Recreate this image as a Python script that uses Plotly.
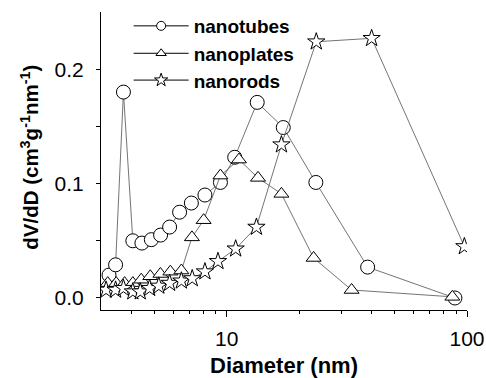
import numpy as np
import plotly.graph_objects as go

# Diameter (nm) and dV/dD values
tubes_d = [3.24, 3.45, 3.72, 4.07, 4.44, 4.86, 5.31, 5.79, 6.37, 7.13, 8.12, 9.42, 10.8, 13.4, 17.2, 23.5, 38.6, 89.1]
tubes_v = [0.020, 0.029, 0.180, 0.050, 0.048, 0.051, 0.055, 0.062, 0.075, 0.083, 0.090, 0.101, 0.123, 0.171, 0.149, 0.101, 0.027, 0.000]

plates_d = [3.20, 3.47, 3.76, 4.07, 4.41, 4.81, 5.30, 5.83, 6.48, 7.17, 8.02, 9.42, 11.25, 13.5, 16.9, 23.0, 33.1, 86.9]
plates_v = [0.013, 0.013, 0.013, 0.013, 0.016, 0.019, 0.021, 0.023, 0.024, 0.053, 0.068, 0.107, 0.121, 0.105, 0.091, 0.035, 0.007, 0.001]

rods_d = [3.15, 3.45, 3.72, 4.07, 4.37, 4.78, 5.22, 5.79, 6.48, 7.19, 8.12, 9.2, 10.9, 13.3, 16.9, 23.6, 40.1, 97.5]
rods_v = [0.007, 0.007, 0.0085, 0.0055, 0.0055, 0.0085, 0.0105, 0.013, 0.015, 0.017, 0.023, 0.032, 0.043, 0.062, 0.134, 0.224, 0.227, 0.045]

names = ["nanotubes", "nanoplates", "nanorods"]
x_ticks = [10, 100]
x_tick_text = ["10", "100"]
x_minor = [4, 5, 6, 7, 8, 9, 20, 30, 40, 50, 60, 70, 80, 90]
y_ticks = [0.0, 0.1, 0.2]
y_minor = [0.05, 0.15]

FONT = "Liberation Sans, Arial, sans-serif"
LINE = "#505050"

fig = go.Figure()
series = [
    (tubes_d, tubes_v, "circle", 14),
    (plates_d, plates_v, "triangle-up", 13),
    (rods_d, rods_v, "star", 13),
]
legend_sizes = [9, 9, 10]
legend_ids = ["legend", "legend2", "legend3"]
legend_rows = [0.953, 0.861, 0.771]

for (xs, ys, sym, sz), nm in zip(series, names):
    fig.add_trace(go.Scatter(
        x=xs, y=ys, mode="lines+markers", showlegend=False,
        line=dict(color=LINE, width=0.8),
        marker=dict(symbol=sym, size=sz, color="white",
                    line=dict(color="black", width=1)),
        name=nm,
    ))
for (xs, ys, sym, sz), nm, lsz, lid in zip(series, names, legend_sizes, legend_ids):
    fig.add_trace(go.Scatter(
        x=[None], y=[None], mode="lines+markers", name=nm, legend=lid,
        line=dict(color="black", width=1),
        marker=dict(symbol=sym, size=lsz, color="white",
                    line=dict(color="black", width=1)),
    ))

legend_style = dict(
    x=0.0755, xanchor="left", yanchor="middle",
    bgcolor="rgba(0,0,0,0)", itemwidth=55,
    font=dict(family=FONT, size=19, color="black", weight="bold"),
    itemclick=False, itemdoubleclick=False,
)

fig.update_layout(
    width=486, height=378,
    margin=dict(l=101, r=19, t=12, b=68, autoexpand=False),
    paper_bgcolor="white", plot_bgcolor="white",
    font=dict(family=FONT, size=21, color="black"),
    showlegend=True,
    legend=dict(y=legend_rows[0], **legend_style),
    legend2=dict(y=legend_rows[1], **legend_style),
    legend3=dict(y=legend_rows[2], **legend_style),
    xaxis=dict(
        type="log", range=[np.log10(3), 2], automargin=False,
        tickvals=x_ticks, ticktext=x_tick_text,
        ticks="outside", ticklen=6, tickwidth=1, tickcolor="black",
        ticklabelstandoff=4,
        minor=dict(tickvals=x_minor, ticks="outside", ticklen=3, tickwidth=1, tickcolor="black"),
        showline=True, linecolor="black", linewidth=1,
        showgrid=False, zeroline=False,
        title=dict(text="<b>Diameter (nm)</b>", font=dict(size=22), standoff=13),
    ),
    yaxis=dict(
        range=[-0.0105, 0.25], automargin=False,
        tickvals=y_ticks, tickformat=".1f",
        ticks="outside", ticklen=4, tickwidth=1, tickcolor="black",
        ticklabelstandoff=8,
        minor=dict(tickvals=y_minor, ticks="outside", ticklen=4, tickwidth=1, tickcolor="black"),
        showline=True, linecolor="black", linewidth=1,
        showgrid=False, zeroline=False,
    ),
    annotations=[dict(
        text="<b>dV/dD (cm<sup>3</sup>g<sup>-1</sup>nm<sup>-1</sup>)</b>",
        xref="paper", yref="paper", x=-0.195, y=0.513,
        xanchor="center", yanchor="middle", textangle=-90,
        showarrow=False, font=dict(family=FONT, size=20.5, color="black"),
    )],
)

fig.write_html("out.html")
